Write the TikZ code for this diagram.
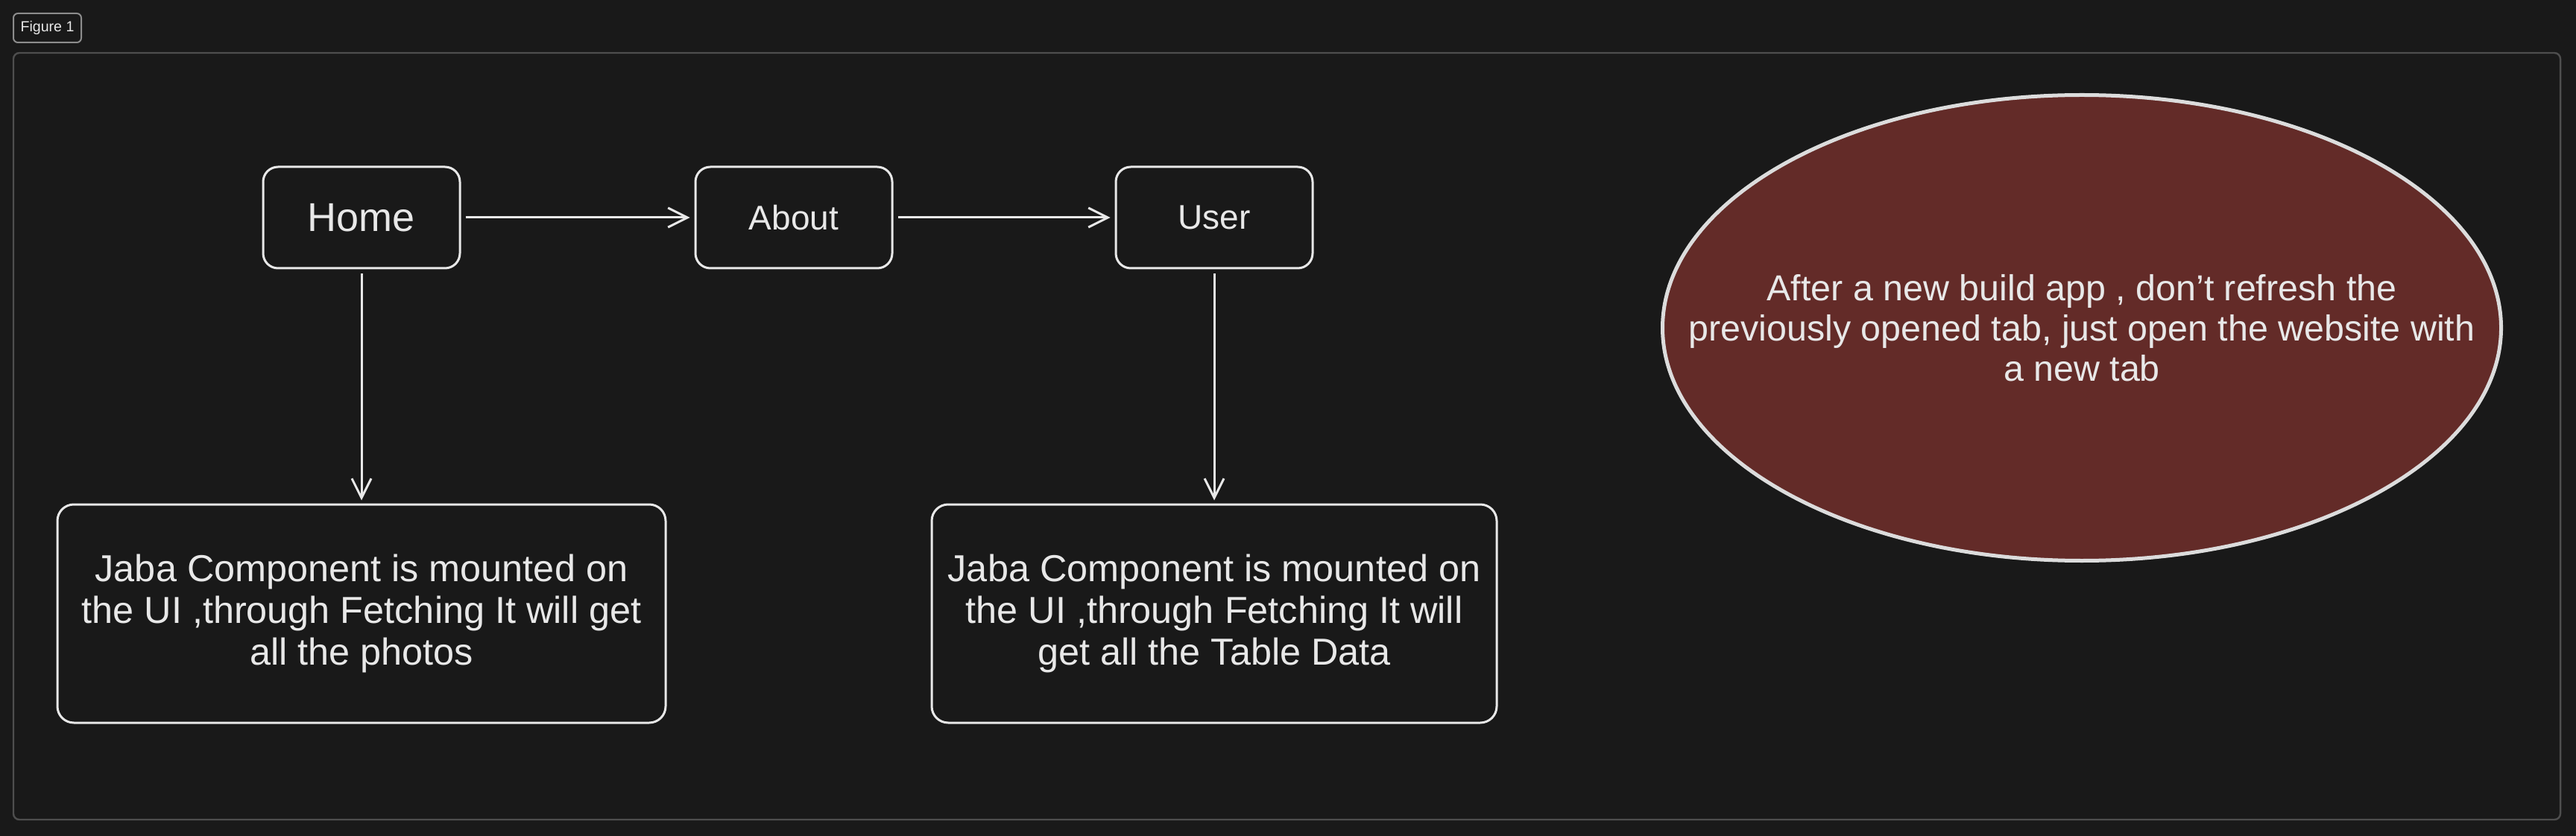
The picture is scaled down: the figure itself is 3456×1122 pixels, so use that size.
\documentclass[tikz,border=0pt]{standalone}
\usepackage{fontspec}
\setmainfont{Liberation Sans}
\usetikzlibrary{arrows.meta,shapes.geometric}
\definecolor{bg}{HTML}{191919}
\definecolor{ink}{HTML}{E8E8E8}
\definecolor{framec}{HTML}{4E4E4E}
\definecolor{labelc}{HTML}{8C8C8C}
\definecolor{notefill}{HTML}{632B28}
\begin{document}
\begin{tikzpicture}[x=0.5pt,y=-0.5pt,
  pagebox/.style={draw=ink, line width=1.5pt, rounded corners=10pt, fill=bg, text=ink, align=center, inner sep=0pt, minimum height=68pt, minimum width=132pt},
  infobox/.style={draw=ink, line width=1.5pt, rounded corners=11pt, fill=bg, text=ink, align=center, inner sep=0pt, minimum height=146.5pt, font=\fontsize{25.2pt}{28pt}\selectfont},
  notebox/.style={ellipse, draw=ink!95!black, line width=2.5pt, fill=notefill, inner sep=0pt, minimum width=562.5pt, minimum height=312.5pt},
  notetext/.style={text=ink, align=center, inner sep=0pt, font=\fontsize{24.2pt}{27pt}\selectfont},
  arr/.style={draw=ink, line width=1.5pt, -{Straight Barb[length=13pt,width=13pt,line width=1.5pt]}}
]
\useasboundingbox (0,0) rectangle (3456,1122);
\fill[bg] (0,0) rectangle (3456,1122);
% frame
\draw[framec, line width=1.2pt, rounded corners=4pt] (18,71) rectangle (3435,1100);
\node[draw=labelc, line width=1pt, rounded corners=3pt, text=ink, inner sep=0pt, minimum width=45.5pt, minimum height=19.5pt, font=\fontsize{9.8pt}{11pt}\selectfont] (fig) at (63.5,37.5) {Figure 1};
% nodes
\node[pagebox, font=\fontsize{27pt}{30pt}\selectfont] (home) at (485,292) {Home};
\node[pagebox, font=\fontsize{23pt}{26pt}\selectfont] (about) at (1065,292) {About};
\node[pagebox, font=\fontsize{23pt}{26pt}\selectfont] (user) at (1629,292) {User};
\node[infobox, minimum width=408pt] (photos) at (485,823.5) {Jaba Component is mounted on\\the UI ,through Fetching It will get\\all the photos};
\node[infobox, minimum width=379pt] (table) at (1629,823.5) {Jaba Component is mounted on\\the UI ,through Fetching It will\\get all the Table Data};
\node[notebox, label={[notetext]center:After a new build app , don{\char"27}t refresh the\\previously opened tab, just open the website with\\a new tab}] (note) at (2793,440) {};
% connectors
\draw[arr] ([xshift=3pt]home.east) -- ([xshift=-3pt]about.west);
\draw[arr] ([xshift=3pt]about.east) -- ([xshift=-3pt]user.west);
\draw[arr] ([yshift=-3pt]home.south) -- ([yshift=2pt]photos.north);
\draw[arr] ([yshift=-3pt]user.south) -- ([yshift=2pt]table.north);
\end{tikzpicture}
\end{document}
